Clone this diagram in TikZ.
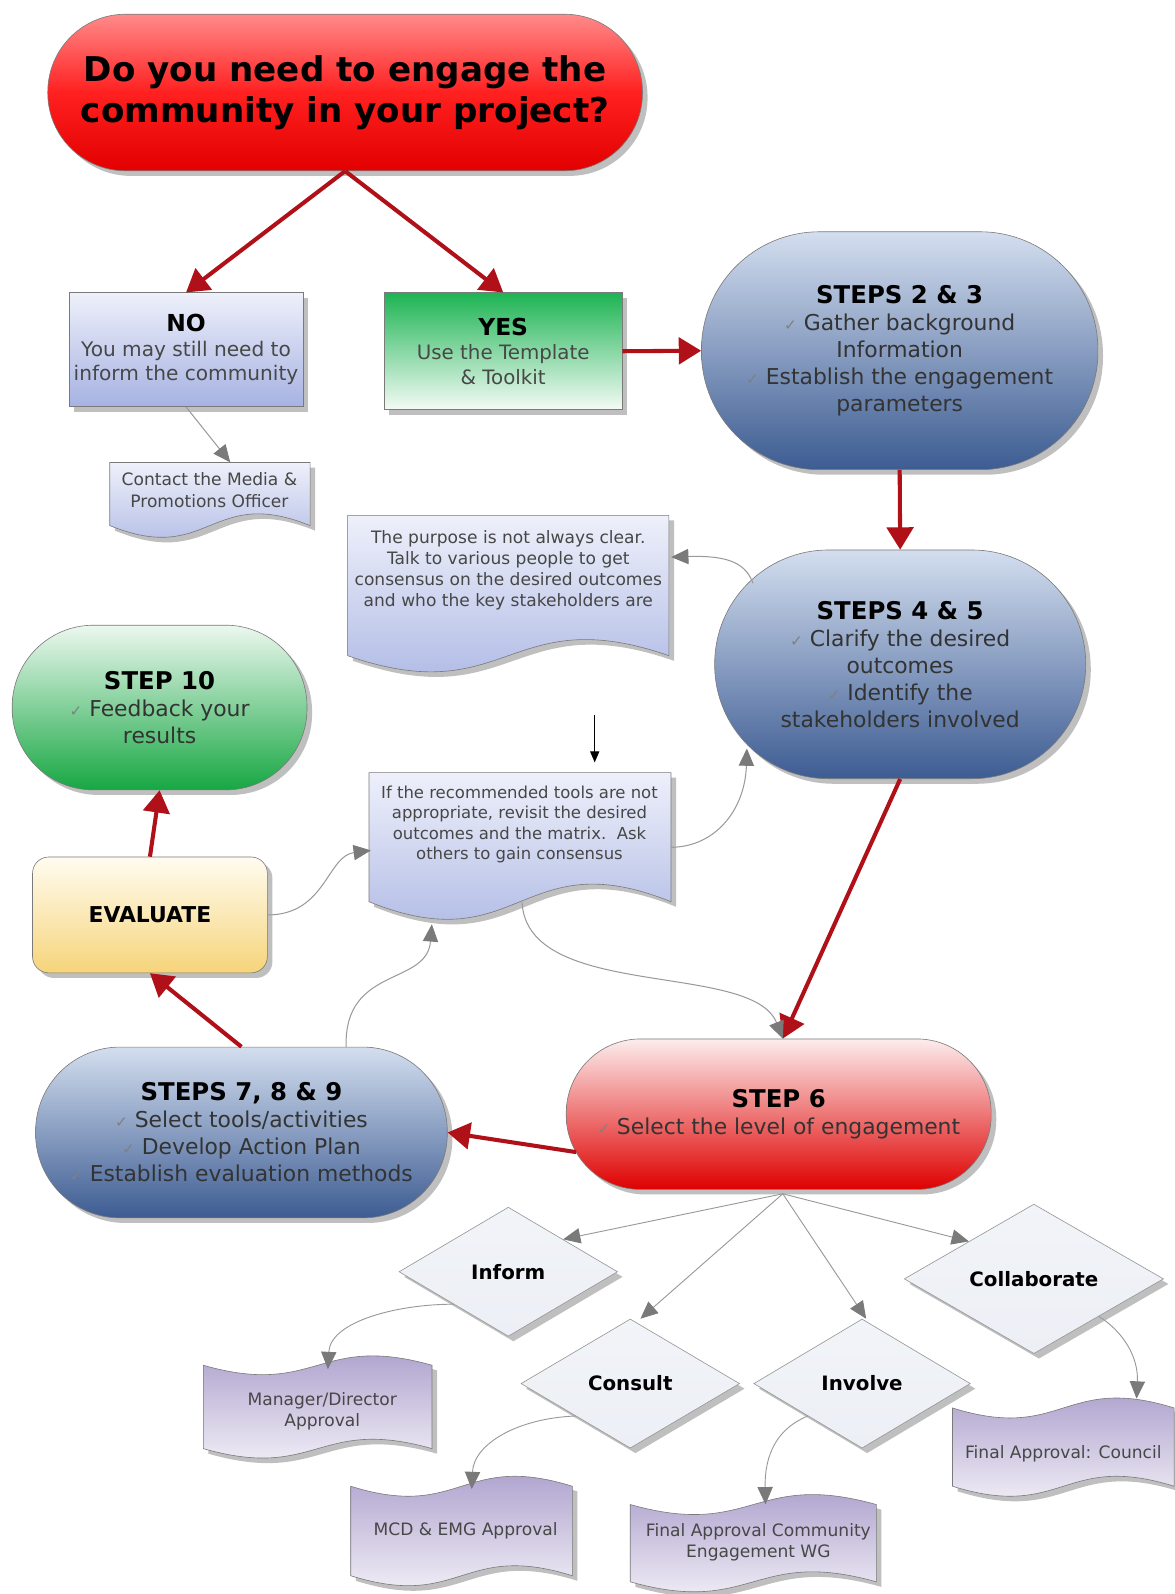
\documentclass[tikz,border=0pt]{standalone}
\usepackage{fontspec}
\setmainfont{DejaVu Sans}
\usetikzlibrary{arrows.meta,shapes.geometric,shadows,calc}
\definecolor{arrred}{HTML}{B01119}
\definecolor{titletop}{HTML}{FF8A8A}
\definecolor{titlemid}{HTML}{FF2020}
\definecolor{titlebot}{HTML}{E20000}
\definecolor{bluetop}{HTML}{D3DEEF}
\definecolor{bluebot}{HTML}{3D5C92}
\definecolor{lavtop}{HTML}{EEF0FA}
\definecolor{lavbot}{HTML}{A6B2E2}
\definecolor{yestop}{HTML}{1DB453}
\definecolor{yesbot}{HTML}{F4FBF6}
\definecolor{stentop}{HTML}{ECF8EF}
\definecolor{stenbot}{HTML}{17A743}
\definecolor{ssixtop}{HTML}{FDEDED}
\definecolor{ssixbot}{HTML}{DF0000}
\definecolor{evtop}{HTML}{FFFCF0}
\definecolor{evbot}{HTML}{F6D47A}
\definecolor{diafill}{HTML}{ECEFF5}
\definecolor{purtop}{HTML}{A597C8}
\definecolor{purbot}{HTML}{FAF9FC}
\definecolor{edgec}{HTML}{7A7A7A}
\definecolor{connc}{HTML}{999999}
\definecolor{headc}{HTML}{7A7A7A}
\newcommand\ck{{\fontsize{15}{15}\selectfont\color{black!50}✓}\ }
% #1 name, #2 x1, #3 ytop, #4 x2, #5 ybase, #6 bottom ctrl, #7 top ctrl, #8 style
\newcommand\wavebox[8]{%
  \node[inner sep=0pt, minimum width={#4-#2}, minimum height={#5-#3}] (#1) at ({(#2+#4)/2},{(#3+#5)/2}) {};
  \path[#8] (#2,#3) .. controls ({(#2+#4)/2},{#3+#7}) and ({(#2+#4)/2},{#3-#7}) .. (#4,#3)
     -- (#4,#5) .. controls ({(#2+#4)/2},{#5-#6}) and ({(#2+#4)/2},{#5+#6}) .. (#2,#5) -- cycle;
}
\begin{document}
\begin{tikzpicture}[x=1pt,y=-1pt,
  shad/.style={drop shadow={shadow xshift=5pt,shadow yshift=-5pt,opacity=.25,fill=black}},
  pill/.style={rectangle, draw=edgec, line width=.6pt, shad, inner sep=0pt, align=center},
  bluefill/.style={top color=bluetop, bottom color=bluebot},
  lavfill/.style={top color=lavtop, bottom color=lavbot},
  bodyfont/.style={font=\fontsize{21.5}{26.5}\selectfont, text=black!80},
  docshape/.style={draw=edgec, line width=.6pt, shad, top color=lavtop, bottom color=lavbot},
  tapeshape/.style={draw=edgec, line width=.6pt, shad, top color=purtop, bottom color=purbot},
  doctext/.style={align=center, text=black!72, inner sep=0pt},
  dia/.style={diamond, draw=edgec!80, line width=.6pt, top color=diafill!70!white, bottom color=diafill, inner sep=0pt, shad, font=\bfseries\fontsize{19.5}{23}\selectfont},
  redarr/.style={draw=arrred, line width=4pt, -{Triangle[length=22pt,width=26pt]}},
  grayarr/.style={draw=connc, line width=1pt, -{Triangle[length=17pt,width=15pt,fill=headc,color=headc]}},
  blackarr/.style={draw=black, line width=1.4pt, -{Triangle[length=11pt,width=9pt]}}
]
\fill[white] (0,0) rectangle (1155,1568);
\useasboundingbox (0,0) rectangle (1155,1568);

% ---------- main nodes ----------
\node[pill, top color=titletop, bottom color=titlebot, middle color=titlemid,
      minimum width=585pt, minimum height=154pt, rounded corners=76.5pt,
      font=\bfseries\fontsize{33.6}{40}\selectfont] (q) at (339.5,91)
      {Do you need to engage the\\community in your project?};

\node[pill, lavfill, minimum width=230pt, minimum height=112pt,
      font=\fontsize{19.8}{24}\selectfont, text=black!72] (no) at (183,344)
      {{\bfseries\fontsize{23}{28}\selectfont\color{black}NO}\\You may still need to\\inform the community};

\node[pill, top color=yestop, bottom color=yesbot, minimum width=234pt, minimum height=115pt,
      font=\fontsize{19.5}{24}\selectfont, text=black!72] (yes) at (495,345.5)
      {{\bfseries\fontsize{23}{28}\selectfont\color{black}YES}\\Use the Template\\\& Toolkit};

\node[pill, bluefill, minimum width=390pt, minimum height=234pt, rounded corners=116pt, bodyfont] (s23) at (885,345)
      {{\bfseries\fontsize{24}{29}\selectfont\color{black}STEPS 2 \& 3}\\\ck Gather background\\Information\\\ck Establish the engagement\\parameters};

\node[pill, bluefill, minimum width=365pt, minimum height=225pt, rounded corners=112pt, bodyfont] (s45) at (885.5,653.5)
      {{\bfseries\fontsize{24}{29}\selectfont\color{black}STEPS 4 \& 5}\\\ck Clarify the desired\\outcomes\\\ck Identify the\\stakeholders involved};

\node[pill, top color=stentop, bottom color=stenbot, minimum width=290pt, minimum height=162pt, rounded corners=80pt, bodyfont] (s10) at (157,696)
      {{\bfseries\fontsize{24}{29}\selectfont\color{black}STEP 10}\\\ck Feedback your\\results};

\node[pill, top color=evtop, bottom color=evbot, minimum width=231pt, minimum height=114pt, rounded corners=16pt,
      font=\bfseries\fontsize{21.5}{26}\selectfont] (eval) at (147.5,900) {EVALUATE};

\node[pill, bluefill, minimum width=405pt, minimum height=168pt, rounded corners=83pt, bodyfont] (s789) at (237.5,1114)
      {{\bfseries\fontsize{24}{29}\selectfont\color{black}STEPS 7, 8 \& 9}\\\ck Select tools/activities\\\ck Develop Action Plan\\\ck Establish evaluation methods};

\node[pill, top color=ssixtop, bottom color=ssixbot, minimum width=418pt, minimum height=148pt, rounded corners=73pt, bodyfont] (s6) at (766,1096)
      {{\bfseries\fontsize{24}{29}\selectfont\color{black}STEP 6}\\\ck Select the level of engagement};

% ---------- documents ----------
\wavebox{contact}{108}{455}{305}{517}{40}{0}{docshape}
\node[doctext, font=\fontsize{16.8}{21}\selectfont] (contact-t) at (206,482) {Contact the Media \&\\Promotions Officer};

\wavebox{purpose}{342}{507}{658}{645}{55}{0}{docshape}
\node[doctext, font=\fontsize{16.8}{20.5}\selectfont] (purpose-t) at (500,561)
  {The purpose is not always clear.\\Talk to various people to get\\consensus on the desired outcomes\\and who the key stakeholders are};

\wavebox{ifdoc}{363}{760}{660}{887}{60}{0}{docshape}
\node[doctext, font=\fontsize{16.2}{20.3}\selectfont] (ifdoc-t) at (511,811)
  {If the recommended tools are not\\appropriate, revisit the desired\\outcomes and the matrix.\ \ Ask\\others to gain consensus};

% ---------- diamonds ----------
\node[dia, minimum width=215pt, minimum height=127pt] (inform) at (500,1251) {Inform};
\node[dia, minimum width=215pt, minimum height=127pt] (consult) at (620,1361) {Consult};
\node[dia, minimum width=213pt, minimum height=127pt] (involve) at (848,1361) {Involve};
\node[dia, minimum width=255pt, minimum height=147pt] (collab) at (1017,1258) {Collaborate};

% ---------- approval tapes ----------
\wavebox{manager}{200}{1343}{425}{1425}{32}{32}{tapeshape}
\node[doctext, font=\fontsize{16.8}{20.5}\selectfont] (manager-t) at (317,1388) {Manager/Director\\Approval};
\wavebox{mcd}{345}{1462}{563}{1550}{34}{34}{tapeshape}
\node[doctext, font=\fontsize{16.8}{20.5}\selectfont] (mcd-t) at (458,1506) {MCD \& EMG Approval};
\wavebox{cewg}{620}{1480}{862}{1556}{34}{34}{tapeshape}
\node[doctext, font=\fontsize{16.8}{20.5}\selectfont] (cewg-t) at (746,1517.5) {Final Approval Community\\Engagement WG};
\wavebox{council}{937}{1385}{1155}{1462}{34}{34}{tapeshape}
\node[doctext, font=\fontsize{16.8}{20.5}\selectfont] (council-t) at (1046,1430) {Final Approval: Council};

% ---------- red connectors ----------
\draw[redarr] (q.south) -- (no.north);
\draw[redarr] (q.south) -- (yes.north);
\draw[redarr] (yes.east) -- (s23.west);
\draw[redarr] (s23.south) -- (s45.north);
\draw[redarr] (s45.south) -- ($(s6.north)+(4,0)$);
\draw[redarr] ($(s6.south west)+(10,-37)$) -- (s789.east);
\draw[redarr] (s789.north) -- (eval.south);
\draw[redarr] (eval.north) -- (s10.south);

% ---------- gray connectors ----------
\draw[grayarr] (no.south) -- ($(contact.north)+(20,0)$);
\draw[grayarr] ($(s45.north west)+(38,33)$) .. controls (734,556) and (720,546) .. ($(purpose.east)+(2,-28)$);
\draw[grayarr] ($(ifdoc.east)+(0,10)$) .. controls (705,833) and (733,795) .. ($(s45.south west)+(32,-30)$);
\draw[grayarr] (eval.east) .. controls (320,900) and (322,842) .. ($(ifdoc.west)+(2,13)$);
\draw[grayarr] ($(ifdoc.south)+(2,0)$) .. controls (518,985) and (740,945) .. ($(s6.north)+(4,0)$);
\draw[grayarr] ($(s789.north)+(103,0)$) .. controls (338,950) and (420,970) .. ($(ifdoc.south west)+(62,22)$);

\coordinate (sixbot) at ($(s6.south)+(4,4)$);
\draw[grayarr, line width=.9pt] (sixbot) -- (inform.north east);
\draw[grayarr, line width=.9pt] (sixbot) -- ($(consult.north)+(10,0)$);
\draw[grayarr, line width=.9pt] (sixbot) -- ($(involve.north)+(4,0)$);
\draw[grayarr, line width=.9pt] (sixbot) -- (collab.north west);

\draw[grayarr, line width=.9pt] (inform.south west) .. controls (390,1283) and (325,1300) .. ($(manager.north)+(10,4)$);
\draw[grayarr, line width=.9pt] (consult.south west) .. controls (510,1395) and (466,1420) .. ($(mcd.north)+(10,3)$);
\draw[grayarr, line width=.9pt] (involve.south west) .. controls (765,1405) and (752,1430) .. ($(cewg.north)+(12,0)$);
\draw[grayarr, line width=.9pt] (collab.south east) .. controls (1105,1310) and (1120,1335) .. ($(council.north)+(72,-9)$);

% ---------- stray black arrow ----------
\coordinate (bk1) at (585,703);
\coordinate (bk2) at (585,750);
\draw[blackarr] (bk1) -- (bk2);
\end{tikzpicture}
\end{document}
